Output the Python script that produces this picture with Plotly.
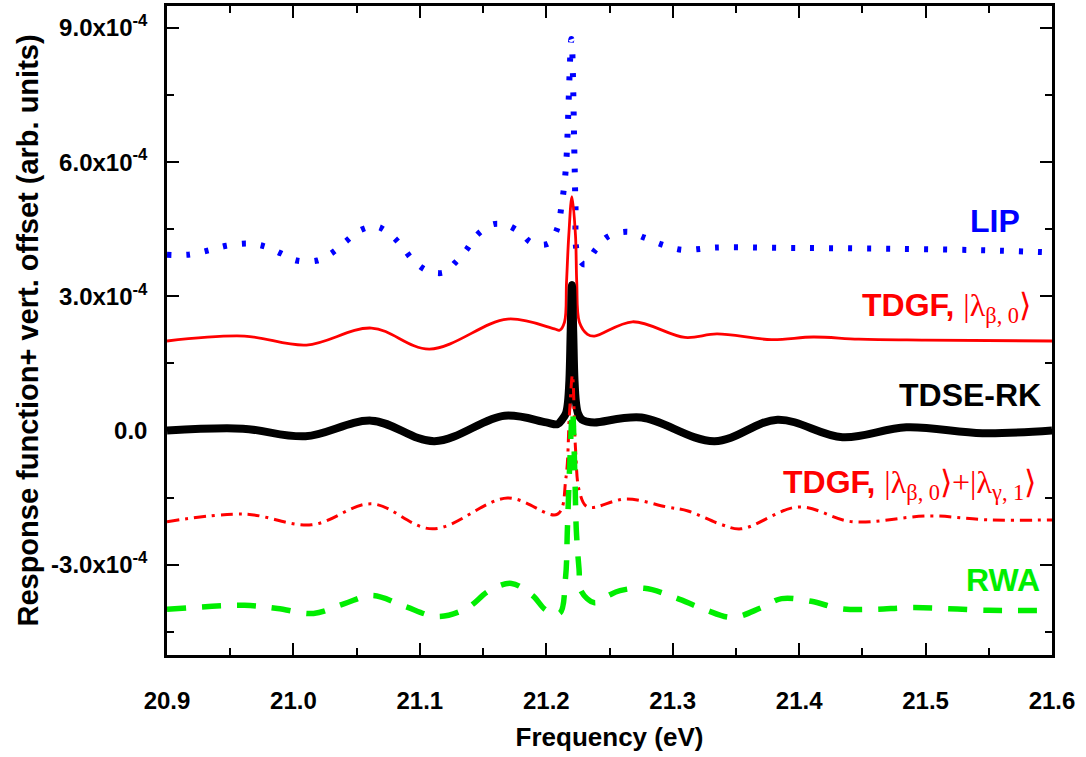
import plotly.graph_objects as go

# ---- data (y in units of 1e-4, vertical offsets included) ----
x_lip = [20.900, 20.917, 20.932, 20.947, 20.9645, 20.978, 20.990, 21.0024, 21.019, 21.031,
         21.042, 21.0523, 21.0657, 21.0768, 21.0855, 21.0942, 21.1053, 21.1187, 21.1282, 21.1369,
         21.1448, 21.1567, 21.1625, 21.1685, 21.1796, 21.1883, 21.2017, 21.2089, 21.212, 21.2144,
         21.216, 21.2199, 21.2223, 21.2231, 21.2247, 21.2302, 21.2389, 21.2484, 21.2642, 21.2777,
         21.2911, 21.307, 21.326, 21.3338, 21.40, 21.479, 21.5584, 21.600]
y_lip = [3.93, 3.93, 4.02, 4.13, 4.18, 4.11, 3.96, 3.80, 3.80, 3.98,
         4.24, 4.47, 4.56, 4.38, 4.13, 3.82, 3.58, 3.53, 3.76, 4.04,
         4.36, 4.60, 4.62, 4.60, 4.42, 4.20, 4.18, 4.53, 5.02, 5.53,
         6.09, 8.75, 6.09, 5.02, 3.93, 3.71, 4.04, 4.33, 4.44, 4.31,
         4.16, 4.04, 4.07, 4.09, 4.08, 4.06, 4.02, 3.98]

x_tdgf1 = [20.900, 20.9613, 21.0103, 21.0617, 21.1076, 21.1693, 21.2065, 21.2105, 21.2144, 21.216,
           21.2178, 21.2203, 21.2231, 21.2241, 21.2262, 21.2326, 21.2381, 21.2682, 21.3097, 21.335,
           21.378, 21.4112, 21.4472, 21.500, 21.600]
y_tdgf1 = [2.00, 2.11, 1.91, 2.29, 1.82, 2.49, 2.27, 2.24, 2.42, 3.31,
           4.36, 5.23, 4.36, 3.31, 2.42, 2.15, 2.11, 2.43, 2.08, 2.16,
           2.03, 2.09, 2.04, 2.02, 2.00]

x_tdse = [20.900, 20.960, 21.0095, 21.0617, 21.1116, 21.167, 21.200, 21.2089, 21.2124, 21.2155,
          21.2171, 21.2183, 21.2193, 21.2203, 21.2213, 21.2223, 21.2235, 21.2251, 21.2282, 21.2322,
          21.2381, 21.2753, 21.333, 21.3829, 21.4343, 21.4848, 21.545, 21.600]
y_tdse = [0.00, 0.04, -0.13, 0.22, -0.24, 0.33, 0.18, 0.14, 0.24, 0.38,
          0.62, 1.13, 2.22, 3.25, 2.22, 1.13, 0.62, 0.38, 0.24, 0.20,
          0.18, 0.29, -0.24, 0.24, -0.15, 0.07, -0.06, 0.00]

x_tdgf2 = [20.900, 20.9613, 21.0143, 21.0617, 21.110, 21.1693, 21.2089, 21.2155, 21.2183, 21.2207,
           21.2231, 21.2262, 21.2326, 21.2634, 21.2952, 21.3121, 21.3373, 21.354, 21.3995, 21.442,
           21.5025, 21.5506, 21.600]
y_tdgf2 = [-2.04, -1.87, -2.11, -1.64, -2.20, -1.51, -1.87, -1.07, 0.36, 1.24,
           -0.40, -1.36, -1.71, -1.53, -1.71, -1.80, -2.09, -2.20, -1.71, -2.04,
           -1.91, -2.00, -2.00]

x_rwa = [20.900, 20.9613, 20.9874, 21.0159, 21.0404, 21.0625, 21.0878, 21.114, 21.1369, 21.155,
         21.1725, 21.1891, 21.200, 21.2105, 21.2152, 21.2167, 21.2185, 21.2207, 21.2227, 21.2237,
         21.2259, 21.2278, 21.2381, 21.2484, 21.2583, 21.2777, 21.3014, 21.3251, 21.3472, 21.3702,
         21.3861, 21.4097, 21.4319, 21.4584, 21.490, 21.550, 21.600]
y_rwa = [-4.00, -3.91, -3.98, -4.09, -3.87, -3.69, -3.93, -4.16, -3.98, -3.58,
         -3.42, -3.69, -4.02, -4.09, -3.30, -2.20, -0.80, 0.45, -1.10, -2.20,
         -3.10, -3.60, -3.85, -3.70, -3.58, -3.53, -3.73, -4.00, -4.18, -3.96,
         -3.76, -3.82, -3.98, -4.00, -3.96, -4.02, -4.02]

y_tickvals = [-3, 0, 3, 6, 9]
y_ticktext = ["-3.0x10<sup>-4</sup>", "0.0", "3.0x10<sup>-4</sup>",
              "6.0x10<sup>-4</sup>", "9.0x10<sup>-4</sup>"]

RED = "#FF0000"
BLUE = "#0000FF"
GREEN = "#00EE00"
SANS = "Liberation Sans"

fig = go.Figure()
fig.add_trace(go.Scatter(x=x_lip, y=y_lip, mode="lines", name="LIP",
                         line=dict(color=BLUE, width=6, dash="4px,15px", shape="spline", smoothing=1.0)))
fig.add_trace(go.Scatter(x=x_tdgf1, y=y_tdgf1, mode="lines", name="TDGF1",
                         line=dict(color=RED, width=2.8, shape="spline", smoothing=1.0)))
fig.add_trace(go.Scatter(x=x_tdse, y=y_tdse, mode="lines", name="TDSE-RK",
                         line=dict(color="black", width=8, shape="spline", smoothing=1.0)))
fig.add_trace(go.Scatter(x=x_tdgf2, y=y_tdgf2, mode="lines", name="TDGF2",
                         line=dict(color=RED, width=3, dash="12px,6px,3px,6px", shape="spline", smoothing=1.0)))
fig.add_trace(go.Scatter(x=x_rwa, y=y_rwa, mode="lines", name="RWA",
                         line=dict(color=GREEN, width=5.5, dash="19px,16px", shape="spline", smoothing=1.0)))

serif = "font-family:'Liberation Serif';font-weight:normal"
annots = [
    ("<b>LIP</b>", BLUE, 0.966, 0.669),
    ("<b>TDGF, </b><span style=\"" + serif + "\">|λ<sub>β, 0</sub>⟩</span>", RED, 0.978, 0.535),
    ("<b>TDSE-RK</b>", "black", 0.990, 0.400),
    ("<b>TDGF, </b><span style=\"" + serif + "\">|λ<sub>β, 0</sub>⟩+|λ<sub>γ, 1</sub>⟩</span>", RED, 0.984, 0.262),
    ("<b>RWA</b>", GREEN, 0.989, 0.115),
]
for txt, col, xp, yp in annots:
    fig.add_annotation(text=txt, x=xp, y=yp, xref="paper", yref="paper",
                       xanchor="right", yanchor="middle", showarrow=False,
                       font=dict(family=SANS, size=32, color=col))

axis_common = dict(showline=True, linecolor="black", linewidth=2.5, mirror="allticks",
                   ticks="inside", ticklen=12, tickwidth=2, tickcolor="black",
                   showgrid=False, zeroline=False,
                   tickfont=dict(family=SANS, size=24, color="black", weight="bold"))

fig.update_layout(
    width=1086, height=757,
    margin=dict(l=167, r=34, t=3, b=102),
    paper_bgcolor="white", plot_bgcolor="white",
    showlegend=False,
    xaxis=dict(range=[20.9, 21.6], dtick=0.1, tick0=20.9, tickformat=".1f",
               minor=dict(dtick=0.05, ticks="inside", ticklen=7, tickwidth=2, tickcolor="black"),
               ticklabelstandoff=22,
               title=dict(text="Frequency (eV)", font=dict(family=SANS, size=26, color="black", weight="bold"),
                          standoff=16),
               **axis_common),
    yaxis=dict(range=[-5.02, 9.49], tickvals=y_tickvals, ticktext=y_ticktext,
               minor=dict(tickvals=[-4.5, -1.5, 1.5, 4.5, 7.5], ticks="inside", ticklen=7,
                          tickwidth=2, tickcolor="black"),
               ticklabelstandoff=12,
               title=dict(text="Response function+ vert. offset (arb. units)",
                          font=dict(family=SANS, size=29, color="black", weight="bold"), standoff=4),
               **axis_common),
)

fig.write_html("out.html")
